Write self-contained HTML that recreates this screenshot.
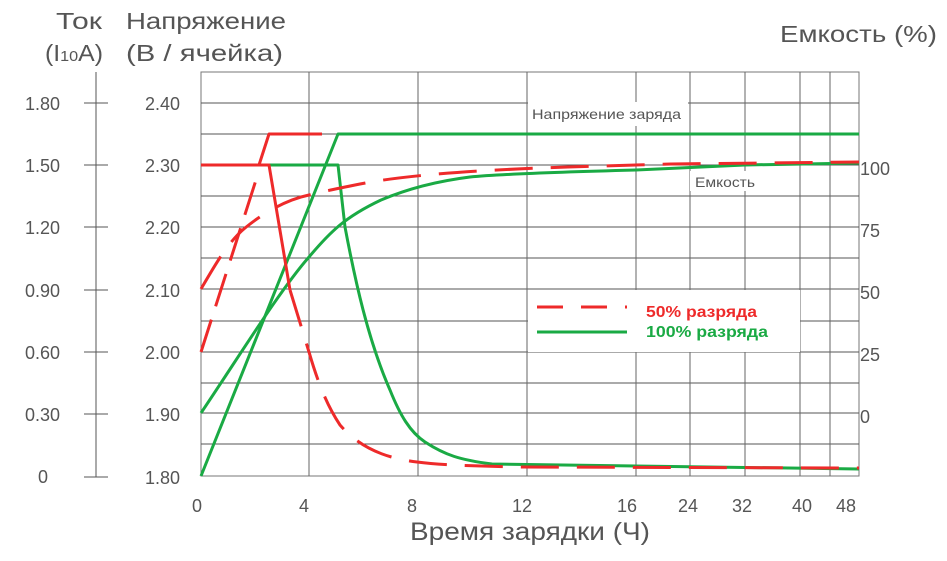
<!DOCTYPE html>
<html><head><meta charset="utf-8"><style>
html,body{margin:0;padding:0;background:#fff;}
svg{display:block;}
text{font-family:"Liberation Sans","DejaVu Sans",sans-serif;fill:#555;}
</style></head><body>
<svg width="947" height="561" viewBox="0 0 947 561" xmlns="http://www.w3.org/2000/svg">
<g stroke="#555" stroke-width="1" fill="none">
<rect x="201" y="72" width="658" height="404" stroke="#777"/>
<path d="M201 103H859M201 134H859M201 165H859M201 196H859M201 227H859M201 258H859M201 289H859M201 321H859M201 352H859M201 383H859M201 413H859M201 444H859"/>
<path d="M309 72V476M418 72V476M527 72V476M636 72V476M690 72V476M745 72V476M800 72V476M830 72V476" stroke="#666"/>
</g>
<rect x="528" y="290" width="272" height="62" fill="#fff"/>
<rect x="528" y="102" width="160" height="24" fill="#fff"/>
<rect x="690" y="171" width="70" height="20" fill="#fff"/>
<text x="532" y="119" font-size="14" fill="#444" textLength="149" lengthAdjust="spacingAndGlyphs">Напряжение заряда</text>
<text x="695" y="187" font-size="14" fill="#444" textLength="60" lengthAdjust="spacingAndGlyphs">Емкость</text>
<g stroke="#555" stroke-width="1">
<path d="M96 72V477M84 103H108M84 165H108M84 227H108M84 290H108M84 352H108M84 414H108M84 477H108"/>
</g>
<g font-size="18" text-anchor="end">
<text x="60" y="110">1.80</text><text x="60" y="172">1.50</text><text x="60" y="234">1.20</text>
<text x="60" y="297">0.90</text><text x="60" y="359">0.60</text><text x="60" y="421">0.30</text>
<text x="48" y="483">0</text>
<text x="180" y="110">2.40</text><text x="180" y="172">2.30</text><text x="180" y="234">2.20</text>
<text x="180" y="297">2.10</text><text x="180" y="359">2.00</text><text x="180" y="421">1.90</text>
<text x="180" y="484">1.80</text>
</g>
<g font-size="18">
<text x="860" y="175">100</text><text x="860" y="237">75</text><text x="860" y="299">50</text>
<text x="860" y="361">25</text><text x="860" y="423">0</text>
</g>
<g font-size="18" text-anchor="middle">
<text x="197" y="512">0</text><text x="304" y="512">4</text><text x="412" y="512">8</text>
<text x="522" y="512">12</text><text x="627" y="512">16</text><text x="688" y="512">24</text>
<text x="742" y="512">32</text><text x="802" y="512">40</text><text x="846" y="512">48</text>
</g>
<text x="410" y="540" font-size="25" textLength="240" lengthAdjust="spacingAndGlyphs">Время зарядки (Ч)</text>
<text x="56" y="29" font-size="23" textLength="46" lengthAdjust="spacingAndGlyphs">Ток</text>
<text x="45" y="61" font-size="23" textLength="58" lengthAdjust="spacingAndGlyphs">(I<tspan font-size="15">10</tspan>A)</text>
<text x="126" y="29" font-size="23" textLength="160" lengthAdjust="spacingAndGlyphs">Напряжение</text>
<text x="126" y="61" font-size="23" textLength="157" lengthAdjust="spacingAndGlyphs">(В / ячейка)</text>
<text x="780" y="42" font-size="23" textLength="157" lengthAdjust="spacingAndGlyphs">Емкость (%)</text>
<g fill="none" stroke-width="3" stroke-linejoin="round">
<path d="M201 476L338 134H859" stroke="#1aaa44"/>
<path d="M269 165H338L345 227C355 280 368 340 390 390C400 415 410 432 425 442C445 455 460 460 492 464L859 469" stroke="#1aaa44"/>
<path d="M201 413C240 355 280 290 309 257C330 232 345 217 381 200C400 192 430 182 470 177C500 174 560 172 636 170L745 165L859 163" stroke="#1aaa44"/>
<path d="M201 165H259L269 134H322" stroke="#ee2a2a"/>
<path d="M259 165H269L290 290" stroke="#ee2a2a"/>
<path d="M290 290L309 352C320 390 330 410 340 425C360 448 385 458 417 462C440 465 470 466 520 467L859 468" stroke="#ee2a2a" stroke-dasharray="38 18"/>
<path d="M201 352L256 180" stroke="#ee2a2a" stroke-dasharray="34 14"/>
<path d="M201 289C215 265 228 242 245 228C262 214 285 200 309 195C325 191 340 188 360 184C400 176 470 170 568 167L671 164L859 162" stroke="#ee2a2a" stroke-dasharray="38 18"/>
</g>
<path d="M537 307H627" stroke="#ee2a2a" stroke-width="3" stroke-dasharray="26 18"/>
<path d="M537 332H627" stroke="#1aaa44" stroke-width="3"/>
<text x="646" y="317" font-size="16" font-weight="bold" style="fill:#ee2a2a" textLength="111" lengthAdjust="spacingAndGlyphs">50% разряда</text>
<text x="646" y="337" font-size="16" font-weight="bold" style="fill:#1aaa44" textLength="122" lengthAdjust="spacingAndGlyphs">100% разряда</text>
</svg>
</body></html>
